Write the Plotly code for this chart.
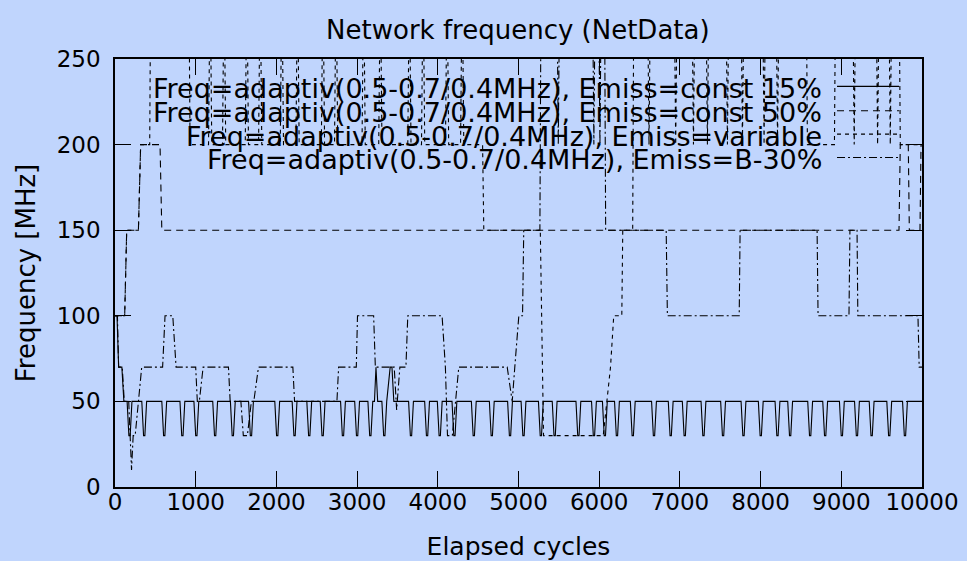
import plotly.graph_objects as go

# ---- data: (elapsed cycles, frequency in MHz) ----
const15 = [
    (0, 100), (25, 100), (45, 70), (85, 70), (110, 50),
    (150, 50), (172, 30), (188, 30), (210, 50),
    (332, 50), (354, 30), (370, 30), (392, 50),
    (580, 50), (602, 30), (618, 30), (640, 50),
    (805, 50), (827, 30), (843, 30), (865, 50),
    (978, 50), (1000, 30), (1016, 30), (1038, 50),
    (1211, 50), (1233, 30), (1249, 30), (1271, 50),
    (1430, 50), (1452, 30), (1468, 30), (1490, 50),
    (1655, 50), (1677, 30), (1693, 30), (1715, 50),
    (1980, 50), (2002, 30), (2018, 30), (2040, 50),
    (2195, 50), (2217, 30), (2233, 30), (2255, 50),
    (2377, 50), (2399, 30), (2415, 30), (2437, 50),
    (2543, 50), (2565, 30), (2581, 30), (2603, 50),
    (2795, 50), (2817, 30), (2833, 30), (2855, 50),
    (2970, 50), (2992, 30), (3008, 30), (3030, 50),
    (3134, 50), (3156, 30), (3172, 30), (3194, 50),
    (3215, 50), (3234, 70), (3255, 50),
    (3307, 50), (3329, 30), (3345, 30), (3367, 50),
    (3410, 70), (3432, 70), (3455, 50),
    (3638, 50), (3660, 30), (3676, 30), (3698, 50),
    (3837, 50), (3859, 30), (3875, 30), (3897, 50),
    (3994, 50), (4016, 30), (4032, 30), (4054, 50),
    (4176, 50), (4198, 30), (4214, 30), (4236, 50),
    (4416, 50), (4438, 30), (4454, 30), (4476, 50),
    (4639, 50), (4661, 30), (4677, 30), (4699, 50),
    (4865, 50), (4887, 30), (4903, 30), (4925, 50),
    (5032, 50), (5054, 30), (5070, 30), (5092, 50),
    (5247, 50), (5269, 30), (5285, 30), (5307, 50),
    (5418, 50), (5440, 30), (5456, 30), (5478, 50),
    (5712, 50), (5734, 30), (5750, 30), (5772, 50),
    (5905, 50), (5927, 30), (5943, 30), (5965, 50),
    (6040, 50), (6062, 30), (6078, 30), (6100, 50),
    (6190, 50), (6212, 30), (6228, 30), (6250, 50),
    (6386, 50), (6408, 30), (6424, 30), (6446, 50),
    (6649, 50), (6671, 30), (6687, 30), (6709, 50),
    (6856, 50), (6878, 30), (6894, 30), (6916, 50),
    (7030, 50), (7052, 30), (7068, 30), (7090, 50),
    (7262, 50), (7284, 30), (7300, 30), (7322, 50),
    (7505, 50), (7527, 30), (7543, 30), (7565, 50),
    (7758, 50), (7780, 30), (7796, 30), (7818, 50),
    (7972, 50), (7994, 30), (8010, 30), (8032, 50),
    (8179, 50), (8201, 30), (8217, 30), (8239, 50),
    (8336, 50), (8358, 30), (8374, 30), (8396, 50),
    (8584, 50), (8606, 30), (8622, 30), (8644, 50),
    (8770, 50), (8792, 30), (8808, 30), (8830, 50),
    (8977, 50), (8999, 30), (9015, 30), (9037, 50),
    (9164, 50), (9186, 30), (9202, 30), (9224, 50),
    (9346, 50), (9368, 30), (9384, 30), (9406, 50),
    (9564, 50), (9586, 30), (9602, 30), (9624, 50),
    (9759, 50), (9781, 30), (9797, 30), (9819, 50),
    (10000, 50),
]

const50 = [
    (0, 100), (120, 100), (145, 150), (290, 150), (318, 200), (558, 200),
    (580, 150), (9715, 150), (9731, 200), (9830, 200), (9843, 150),
    (9975, 150), (9988, 200), (10000, 200),
]

variable = [
    (0, 100), (120, 100), (145, 150), (290, 150), (318, 200), (430, 200),
    (443, 300), (915, 300), (930, 200),
    (1159, 200), (1179, 300), (1199, 200), (1332, 200), (1352, 300), (1372, 200),
    (1614, 200), (1634, 300), (1654, 200), (1779, 200), (1799, 300), (1819, 200),
    (2048, 200), (2068, 300), (2088, 200), (2242, 200), (2262, 300), (2282, 200),
    (2557, 200), (2577, 300), (2597, 200), (2720, 200), (2740, 300), (2760, 200),
    (3061, 200), (3081, 300), (3101, 200), (3268, 200), (3288, 300), (3308, 200),
    (3628, 200), (3648, 300), (3668, 200), (3798, 200), (3818, 300), (3838, 200),
    (4095, 200), (4115, 300), (4135, 200), (4282, 200), (4302, 300), (4322, 200),
    (4555, 200), (4570, 150), (5270, 150), (5310, 30), (6050, 30), (6140, 70),
    (6180, 100), (6280, 100), (6292, 150), (6415, 150), (6430, 300),
    (6597, 300), (6617, 200), (6637, 300), (6928, 300), (6948, 200), (6968, 300),
    (7148, 300), (7168, 200), (7188, 300), (7321, 300), (7341, 200), (7361, 300),
    (7569, 300), (7589, 200), (7609, 300), (7755, 300), (7775, 200), (7795, 300),
    (8023, 300), (8043, 200), (8063, 300), (8190, 300), (8210, 200), (8230, 300),
    (8565, 300), (8580, 200), (8915, 200), (8930, 300),
    (9140, 300), (9160, 200), (9180, 300), (9430, 300), (9450, 200), (9470, 300),
    (9587, 300), (9607, 200), (9627, 300),
    (9715, 300), (9731, 200), (10000, 200),
]

b30 = [
    (0, 100), (30, 100), (45, 70), (90, 70), (115, 50), (170, 50), (205, 10),
    (225, 30), (250, 30), (331, 70), (590, 70), (620, 100), (716, 100),
    (757, 70), (1000, 70), (1020, 50), (1045, 50), (1092, 70), (1406, 70),
    (1427, 50), (1560, 50), (1590, 30), (1640, 30), (1690, 50), (1720, 50),
    (1778, 70), (2204, 70), (2225, 50), (2750, 50), (2771, 70), (2990, 70),
    (3005, 100), (3205, 100), (3226, 70), (3460, 70), (3490, 45), (3530, 70),
    (3605, 70), (3628, 100), (4053, 100), (4094, 70), (4120, 30), (4180, 30),
    (4220, 50), (4260, 70), (4860, 70), (4922, 50), (4954, 70), (5004, 100),
    (5050, 100), (5065, 150), (5265, 150), (5280, 300), (5475, 300),
    (5493, 200), (5511, 300), (5916, 300), (5934, 200), (5952, 300),
    (5991, 300), (6009, 200), (6027, 300), (6065, 300), (6080, 150),
    (6830, 150), (6845, 100), (7735, 100), (7746, 150), (8700, 150),
    (8712, 100), (9095, 100), (9107, 150), (9195, 150), (9205, 100),
    (9950, 100), (9965, 70), (10000, 70),
]

labels = [
    "Freq=adaptiv(0.5-0.7/0.4MHz), Emiss=const 15%",
    "Freq=adaptiv(0.5-0.7/0.4MHz), Emiss=const 50%",
    "Freq=adaptiv(0.5-0.7/0.4MHz), Emiss=variable",
    "Freq=adaptiv(0.5-0.7/0.4MHz), Emiss=B-30%",
]
x_ticks = list(range(0, 10001, 1000))
y_ticks = [0, 50, 100, 150, 200, 250]

# ---- styling ----
BG = "#c0d5fd"
FONT = "DejaVu Sans"
dashes = ["solid", "7px,5px", "4px,4px", "8px,3px,2px,3px"]
series = [const15, const50, variable, b30]

fig = go.Figure()
for pts, dash, name in zip(series, dashes, labels):
    fig.add_trace(go.Scatter(
        x=[p[0] for p in pts], y=[p[1] for p in pts], mode="lines", name=name,
        line=dict(color="black", width=1.1, dash=dash), showlegend=False,
    ))

# key drawn gnuplot-style: right-aligned text with the line sample to its right
key_rows = [0.931, 0.874, 0.8195, 0.765]
sample_rows = [0.936, 0.879, 0.8245, 0.770]
for lab, dash, yy, ys in zip(labels, dashes, key_rows, sample_rows):
    fig.add_annotation(text=lab, xref="paper", yref="paper", x=0.8785, y=yy,
                       xanchor="right", yanchor="middle", showarrow=False,
                       font=dict(family=FONT, size=27, color="black"))
    fig.add_shape(type="line", xref="paper", yref="paper",
                  x0=0.8947, x1=0.9715, y0=ys, y1=ys,
                  line=dict(color="black", width=1.1, dash=dash))

axis_common = dict(
    showline=True, linecolor="black", linewidth=1.5, mirror="ticks",
    ticks="inside", ticklen=16, tickwidth=1, tickcolor="black",
    showgrid=False, zeroline=False, automargin=False,
    tickfont=dict(family=FONT, size=23, color="black"),
)
fig.update_xaxes(range=[0, 10000], tickvals=x_ticks,
                 ticktext=[str(v) for v in x_ticks],
                 title=dict(text="Elapsed cycles", standoff=23,
                            font=dict(family=FONT, size=25, color="black")),
                 ticklabelstandoff=-6, **axis_common)
fig.update_yaxes(range=[0, 250], tickvals=y_ticks,
                 ticktext=[str(v) for v in y_ticks],
                 title=dict(text="Frequency [MHz]", standoff=14,
                            font=dict(family=FONT, size=26, color="black")),
                 ticklabelstandoff=8, **axis_common)

fig.update_layout(
    width=967, height=561,
    margin=dict(l=115, r=45, t=59, b=74),
    paper_bgcolor=BG, plot_bgcolor=BG,
    title=dict(text="Network frequency (NetData)", x=0.5355, xanchor="center",
               y=0.946, yanchor="middle",
               font=dict(family=FONT, size=26, color="black")),
    font=dict(family=FONT, color="black"),
)

fig.write_html("out.html")
